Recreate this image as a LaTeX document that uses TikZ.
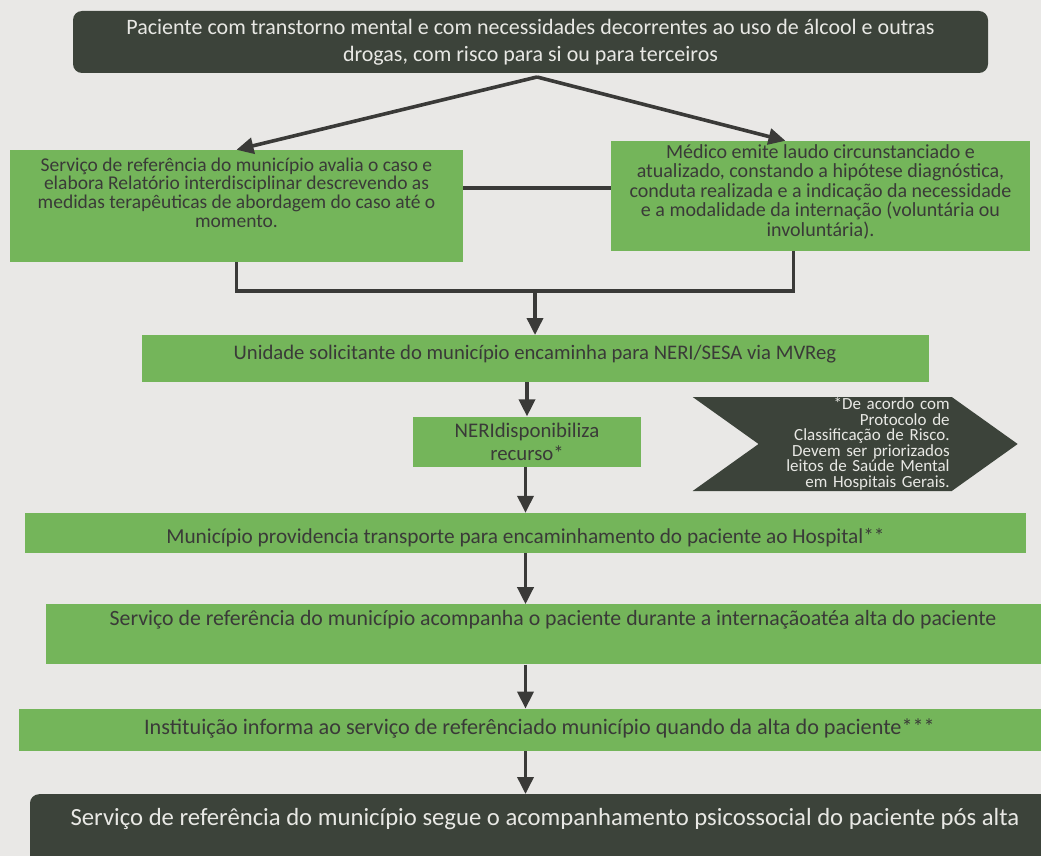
\documentclass[tikz,border=0pt]{standalone}
\usepackage{fontspec}
\setmainfont{Carlito}
\usepackage{tikz}
\usetikzlibrary{positioning}
\usetikzlibrary{arrows.meta}
\usetikzlibrary{shapes.symbols}

\definecolor{paper}{RGB}{233,232,230}
\definecolor{boxgreen}{RGB}{116,181,90}
\definecolor{boxdark}{RGB}{60,67,58}
\definecolor{inkgray}{RGB}{58,58,56}
\definecolor{lightink}{RGB}{232,232,228}

\begin{document}
\begin{tikzpicture}
          [x=1pt, y=-1pt,
           greenbox/.style={fill=boxgreen, text=inkgray, inner xsep=0pt, inner ysep=0pt},
           darkbox/.style={fill=boxdark, text=lightink, inner xsep=0pt, inner ysep=0pt, rounded corners=9pt},
           flow/.style={draw=inkgray, line width=3.6pt, -{Triangle[length=17pt, width=16pt]}},
           linkline/.style={draw=inkgray, line width=3.6pt}]
          \fill[paper] (0,0) rectangle (1041,856);
          \useasboundingbox (0,0) rectangle (1041,856);

          \node (paciente) [darkbox, minimum width=915pt, minimum height=62pt, align=center,
                            font=\fontsize{22}{27}\selectfont] at (530.5,42)
                {Paciente com transtorno mental e com necessidades decorrentes ao uso de álcool e outras\\
                 drogas, com risco para si ou para terceiros};
          \coordinate (topo) at (537,77);

          \node (servico) [greenbox, minimum width=453pt, minimum height=112pt, align=center,
                           font=\fontsize{19.5}{18.7}\selectfont] at (236.5,206)
                {Serviço de referência do município avalia o caso e\\
                 elabora Relatório interdisciplinar descrevendo as\\
                 medidas terapêuticas de abordagem do caso até o\\
                 momento.\rule[-27pt]{0pt}{27pt}};
          \node (medico) [greenbox, minimum width=419pt, minimum height=110pt, align=center,
                          font=\fontsize{20}{19.5}\selectfont] at (820.5,196)
                {Médico emite laudo circunstanciado e\\
                 atualizado, constando a hipótese diagnóstica,\\
                 conduta realizada e a indicação da necessidade\\
                 e a modalidade da internação (voluntária ou\\
                 involuntária).\rule[-11pt]{0pt}{11pt}};
          \coordinate (uniao) at (535,291);

          \node (unidade) [greenbox, below=44pt of uniao, minimum width=787pt,
                           font=\fontsize{20.7}{24}\selectfont, text height=23.8pt, text depth=23.2pt]
                {Unidade solicitante do município encaminha para NERI/SESA via MVReg};
          \node (neri) [greenbox, below=34pt of unidade, xshift=-8pt, minimum width=228pt,
                        minimum height=50pt, align=center, font=\fontsize{20.8}{23}\selectfont]
                {NERIdisponibiliza\\recurso*};
          \node (nota) [shape=signal, signal from=west, signal to=east, signal pointer angle=71,
                        fill=boxdark, text=lightink, inner xsep=2pt, inner ysep=0pt,
                        anchor=east, minimum width=325pt, minimum height=94pt,
                        text width=189pt, align=right, font=\fontsize{17}{15.5}\selectfont] at (1018,444)
                {*De acordo com\\Protocolo de\\Classificação de Risco.\\Devem ser priorizados\\
                 leitos de Saúde Mental\\em Hospitais Gerais.};
          \node (transporte) [greenbox, below=46pt of neri, xshift=-1.5pt, minimum width=1001pt,
                              font=\fontsize{21.3}{26}\selectfont, text height=30pt, text depth=10pt]
                {Município providencia transporte para encaminhamento do paciente ao Hospital**};
          \node (acompanha) [greenbox, below=51pt of transporte, xshift=27.5pt, minimum width=1014pt,
                             font=\fontsize{21.8}{25}\selectfont, text height=21.2pt, text depth=38.8pt]
                {Serviço de referência do município acompanha o paciente durante a internaçãoatéa alta do paciente};
          \node (informa) [greenbox, below=44pt of acompanha, xshift=-13.5pt, minimum width=1041pt,
                           font=\fontsize{22.2}{25}\selectfont, text height=25.3pt, text depth=16.7pt]
                {Instituição informa ao serviço de referênciado município quando da alta do paciente***};
          \node (posalta) [darkbox, below=43pt of informa, xshift=5.5pt, minimum width=1030pt,
                           font=\fontsize{24.7}{29}\selectfont, text height=31.2pt, text depth=56.8pt]
                {Serviço de referência do município segue o acompanhamento psicossocial do paciente pós alta};

          \draw[flow] (topo) -- (servico.north);
          \draw[flow] (topo) -- ([xshift=-35pt]medico.north);
          \draw[linkline] ([yshift=18pt]servico.east) -- ([yshift=18pt]servico.east -| medico.west);
          \draw[linkline] (servico.south) |- (uniao) -| ([xshift=-27pt]medico.south);
          \draw[flow] (uniao) -- (uniao |- unidade.north);
          \draw[flow] (neri.north |- unidade.south) -- (neri.north);
          \draw[flow] (transporte.south |- neri.south) -- (transporte.north);
          \draw[flow] (transporte.south) -- (transporte.south |- acompanha.north);
          \draw[flow] (transporte.south |- acompanha.south) -- (transporte.south |- informa.north);
          \draw[flow] (transporte.south |- informa.south) -- (transporte.south |- posalta.north);

        \end{tikzpicture}
\end{document}
